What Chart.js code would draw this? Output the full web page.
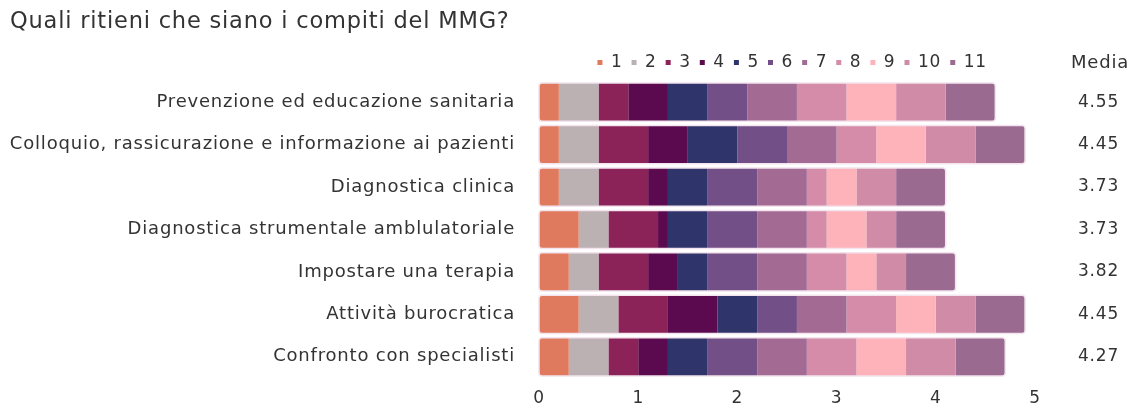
<!DOCTYPE html>
<html>
<head>
<meta charset="utf-8">
<script src="https://cdn.jsdelivr.net/npm/chart.js@4.4.1/dist/chart.umd.min.js"></script>
<style>
  html, body { margin: 0; padding: 0; background: #fff; }
  #wrap { width: 1147px; height: 408px; }
</style>
</head>
<body>
<div id="wrap"><canvas id="chart"></canvas></div>
<script>
const categories = [
    'Prevenzione ed educazione sanitaria',
    'Colloquio, rassicurazione e informazione ai pazienti',
    'Diagnostica clinica',
    'Diagnostica strumentale amblulatoriale',
    'Impostare una terapia',
    'Attività burocratica',
    'Confronto con specialisti'
];
const means = ['4.55', '4.45', '3.73', '3.73', '3.82', '4.45', '4.27'];
const levels = ['1', '2', '3', '4', '5', '6', '7', '8', '9', '10', '11'];

// one array per answer level, one value per category
const v1 = [0.2, 0.2, 0.2, 0.4, 0.3, 0.4, 0.3];
const v2 = [0.4, 0.4, 0.4, 0.3, 0.3, 0.4, 0.4];
const v3 = [0.3, 0.5, 0.5, 0.5, 0.5, 0.5, 0.3];
const v4 = [0.4, 0.4, 0.2, 0.1, 0.3, 0.5, 0.3];
const v5 = [0.4, 0.5, 0.4, 0.4, 0.3, 0.4, 0.4];
const v6 = [0.4, 0.5, 0.5, 0.5, 0.5, 0.4, 0.5];
const v7 = [0.5, 0.5, 0.5, 0.5, 0.5, 0.5, 0.5];
const v8 = [0.5, 0.4, 0.2, 0.2, 0.4, 0.5, 0.5];
const v9 = [0.5, 0.5, 0.3, 0.4, 0.3, 0.4, 0.5];
const v10 = [0.5, 0.5, 0.4, 0.3, 0.3, 0.4, 0.5];
const v11 = [0.5, 0.5, 0.5, 0.5, 0.5, 0.5, 0.5];
const xTicks = [0, 1, 2, 3, 4, 5];

const values = [v1, v2, v3, v4, v5, v6, v7, v8, v9, v10, v11];
const colors = ['#e07a5f', '#bbb0b2', '#8b2358', '#5b0a4f', '#2f356b', '#724f87',
    '#a36b94', '#d48ca9', '#feb3ba', '#d08ba6', '#9b6a90'];

const FONT = '"DejaVu Sans", sans-serif';
const TEXT = '#333333';

const datasets = levels.map((lvl, i) => {
    let radius = 0;
    if (i === 0) radius = { topLeft: 3, bottomLeft: 3, topRight: 0, bottomRight: 0 };
    if (i === levels.length - 1) radius = { topLeft: 0, bottomLeft: 0, topRight: 3, bottomRight: 3 };
    return {
        label: lvl,
        data: values[i],
        backgroundColor: colors[i],
        borderWidth: 0,
        borderSkipped: false,
        borderRadius: radius,
        categoryPercentage: 1,
        barPercentage: 0.9
    };
});

// vertical axes should not reserve extra room for their labels
const noPad = s => { s.paddingTop = 0; s.paddingBottom = 0; };

// wider letter spacing, light outline around each bar, "Media" header
const extras = {
    id: 'extras',
    beforeDraw(chart) {
        chart.ctx.letterSpacing = '0.8px';
    },
    afterDatasetsDraw(chart) {
        const ctx = chart.ctx;
        const x = chart.scales.x;
        const first = chart.getDatasetMeta(0).data;
        ctx.save();
        ctx.strokeStyle = '#f3e4ee';
        ctx.lineWidth = 1.5;
        first.forEach((bar, j) => {
            let total = 0;
            values.forEach(v => total += v[j]);
            const x0 = x.getPixelForValue(0);
            const x1 = x.getPixelForValue(total);
            const h = bar.height;
            ctx.beginPath();
            ctx.roundRect(x0, bar.y - h / 2, x1 - x0, h, 3);
            ctx.stroke();
        });
        ctx.restore();
    },
    afterDraw(chart) {
        const ctx = chart.ctx;
        const legend = chart.legend;
        const y2 = chart.scales.y2;
        ctx.save();
        ctx.font = '18px ' + FONT;
        ctx.fillStyle = TEXT;
        ctx.textAlign = 'center';
        ctx.textBaseline = 'middle';
        ctx.fillText('Media', y2.left + 65, legend.top + legend.height / 2);
        ctx.restore();
        ctx.letterSpacing = '0px';
    }
};

new Chart(document.getElementById('chart'), {
    type: 'bar',
    data: { labels: categories, datasets: datasets },
    options: {
        indexAxis: 'y',
        responsive: true,
        maintainAspectRatio: false,
        animation: false,
        layout: { padding: { left: 10, right: 0, top: 0, bottom: 0 } },
        scales: {
            x: {
                stacked: true,
                min: 0,
                max: 5,
                afterBuildTicks: s => { s.ticks = xTicks.map(v => ({ value: v })); },
                afterFit: s => { s.height = 30; },
                grid: { display: false },
                border: { display: false },
                ticks: { color: TEXT, font: { family: FONT, size: 17 }, padding: 2 }
            },
            y: {
                stacked: true,
                grid: { display: false },
                border: { display: false },
                afterFit: s => { s.width = 529; noPad(s); },
                ticks: { color: TEXT, font: { family: FONT, size: 18 }, padding: 16 }
            },
            y2: {
                type: 'category',
                labels: means,
                position: 'right',
                offset: true,
                grid: { display: false },
                border: { display: false },
                afterFit: s => { s.width = 112; noPad(s); },
                ticks: { color: TEXT, font: { family: FONT, size: 17 }, padding: 35 }
            }
        },
        plugins: {
            title: {
                display: true,
                text: 'Quali ritieni che siano i compiti del MMG?',
                align: 'start',
                color: TEXT,
                font: { family: FONT, size: 22.5, weight: 'normal' },
                padding: { top: 9, bottom: 9 }
            },
            legend: {
                position: 'top',
                fullSize: false,
                labels: {
                    usePointStyle: true,
                    pointStyle: 'rect',
                    boxWidth: 5,
                    boxHeight: 5,
                    padding: 9,
                    color: TEXT,
                    font: { family: FONT, size: 17 }
                }
            },
            tooltip: { enabled: false }
        }
    },
    plugins: [extras]
});
</script>
</body>
</html>
